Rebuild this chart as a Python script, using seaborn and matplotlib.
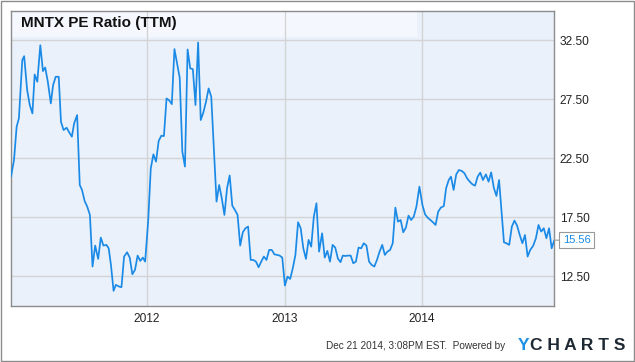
import matplotlib
matplotlib.use("Agg")
import matplotlib.pyplot as plt
import matplotlib.dates as mdates
from matplotlib.ticker import FormatStrFormatter
from matplotlib.patches import Rectangle
import seaborn as sns
import pandas as pd

# ---------------- data ----------------
dates_2011 = ["2011-01-04", "2011-01-12", "2011-01-19", "2011-01-25", "2011-02-03", "2011-02-08",
              "2011-02-16", "2011-02-23", "2011-03-02", "2011-03-08", "2011-03-15", "2011-03-23",
              "2011-03-30", "2011-04-05", "2011-04-12", "2011-04-20", "2011-04-26", "2011-05-03",
              "2011-05-11", "2011-05-17", "2011-05-24", "2011-06-01", "2011-06-08", "2011-06-15",
              "2011-06-21", "2011-06-29", "2011-07-06", "2011-07-12", "2011-07-19", "2011-07-26",
              "2011-08-02", "2011-08-09", "2011-08-16", "2011-08-24", "2011-08-31", "2011-09-07",
              "2011-09-15", "2011-09-21", "2011-09-27", "2011-10-04", "2011-10-10", "2011-10-18",
              "2011-10-25", "2011-11-01", "2011-11-09", "2011-11-16", "2011-11-23", "2011-11-30",
              "2011-12-07", "2011-12-14", "2011-12-21", "2011-12-27"]
pe_2011 = [20.95, 22.36, 25.18, 25.89, 30.83, 31.17, 28.29, 27.02, 26.31, 29.62, 29.00, 32.10,
           29.90, 30.21, 29.00, 27.16, 28.71, 29.42, 29.42, 25.60, 24.90, 25.10, 24.70, 24.34,
           25.46, 26.17, 20.24, 19.82, 18.88, 18.40, 17.70, 13.32, 15.10, 13.97, 15.78, 15.10,
           15.16, 14.87, 13.46, 11.26, 11.77, 11.63, 11.57, 14.17, 14.53, 14.08, 12.67, 13.04,
           14.25, 13.80, 14.08, 13.74]

dates_2012 = ["2012-01-04", "2012-01-11", "2012-01-18", "2012-01-25", "2012-02-01", "2012-02-08",
              "2012-02-15", "2012-02-22", "2012-02-29", "2012-03-07", "2012-03-14", "2012-03-21",
              "2012-03-28", "2012-04-04", "2012-04-11", "2012-04-18", "2012-04-25", "2012-05-02",
              "2012-05-09", "2012-05-16", "2012-05-23", "2012-05-30", "2012-06-06", "2012-06-13",
              "2012-06-20", "2012-06-27", "2012-07-04", "2012-07-11", "2012-07-18", "2012-07-25",
              "2012-08-01", "2012-08-08", "2012-08-15", "2012-08-22", "2012-08-29", "2012-09-05",
              "2012-09-12", "2012-09-19", "2012-09-26", "2012-10-03", "2012-10-10", "2012-10-17",
              "2012-10-24", "2012-10-31", "2012-11-07", "2012-11-14", "2012-11-21", "2012-11-28",
              "2012-12-05", "2012-12-12", "2012-12-19", "2012-12-26"]
pe_2012 = [17.13, 21.65, 22.84, 22.22, 23.97, 24.42, 24.39, 27.58, 27.42, 27.10, 31.77, 30.55,
           29.34, 23.07, 21.80, 31.74, 30.13, 30.07, 27.02, 32.33, 25.75, 26.40, 27.30, 28.43,
           27.72, 23.35, 18.83, 20.24, 19.11, 17.70, 19.96, 21.05, 18.48, 18.12, 17.70, 15.10,
           16.23, 16.57, 16.71, 13.88, 13.88, 13.74, 13.26, 13.74, 14.17, 13.88, 14.73, 14.73,
           14.36, 14.31, 14.25, 14.08]

dates_2013 = ["2013-01-02", "2013-01-09", "2013-01-16", "2013-01-23", "2013-01-30", "2013-02-06",
              "2013-02-13", "2013-02-20", "2013-02-27", "2013-03-06", "2013-03-13", "2013-03-20",
              "2013-03-27", "2013-04-03", "2013-04-11", "2013-04-18", "2013-04-25", "2013-05-02",
              "2013-05-09", "2013-05-16", "2013-05-23", "2013-05-30", "2013-06-05", "2013-06-12",
              "2013-06-19", "2013-06-26", "2013-07-03", "2013-07-10", "2013-07-17", "2013-07-24",
              "2013-07-31", "2013-08-07", "2013-08-14", "2013-08-21", "2013-08-28", "2013-09-04",
              "2013-09-11", "2013-09-18", "2013-09-25", "2013-10-02", "2013-10-09", "2013-10-16",
              "2013-10-23", "2013-10-30", "2013-11-06", "2013-11-13", "2013-11-20", "2013-11-27",
              "2013-12-04", "2013-12-11", "2013-12-18", "2013-12-26"]
pe_2013 = [11.71, 12.47, 12.27, 13.18, 14.31, 17.08, 16.57, 14.87, 13.97, 15.58, 15.01, 17.56,
           18.69, 14.59, 16.14, 14.08, 14.65, 13.74, 15.16, 14.93, 14.00, 13.69, 14.25, 14.22,
           14.25, 14.25, 13.60, 13.74, 14.93, 14.87, 15.30, 15.10, 13.74, 13.46, 13.32, 13.88,
           14.59, 15.16, 14.31, 14.59, 14.73, 15.30, 18.32, 17.13, 17.27, 16.23, 16.62, 17.64,
           17.27, 17.56, 18.40, 20.10]

dates_2014 = ["2014-01-03", "2014-01-10", "2014-01-17", "2014-01-24", "2014-01-31", "2014-02-07",
              "2014-02-14", "2014-02-21", "2014-03-01", "2014-03-07", "2014-03-14", "2014-03-20",
              "2014-03-27", "2014-04-03", "2014-04-10", "2014-04-18", "2014-04-25", "2014-05-02",
              "2014-05-09", "2014-05-16", "2014-05-23", "2014-05-30", "2014-06-06", "2014-06-13",
              "2014-06-21", "2014-06-28", "2014-07-05", "2014-07-12", "2014-07-19", "2014-07-26",
              "2014-08-01", "2014-08-08", "2014-08-14", "2014-08-22", "2014-08-29", "2014-09-05",
              "2014-09-12", "2014-09-19", "2014-09-26", "2014-10-03", "2014-10-10", "2014-10-17",
              "2014-10-25", "2014-11-01", "2014-11-08", "2014-11-15", "2014-11-22", "2014-11-29",
              "2014-12-06", "2014-12-13", "2014-12-20"]
pe_2014 = [18.54, 17.75, 17.47, 17.27, 17.08, 16.85, 17.98, 18.32, 18.45, 19.96, 20.66, 20.95,
           19.82, 21.14, 21.51, 21.43, 21.23, 20.80, 20.52, 20.30, 20.18, 20.95, 21.29, 20.66,
           21.14, 20.52, 21.31, 20.01, 19.31, 20.66, 18.26, 15.38, 15.30, 15.16, 16.71, 17.22,
           16.79, 16.00, 15.30, 16.00, 14.17, 14.73, 15.10, 15.72, 16.85, 16.29, 16.57, 15.72,
           16.57, 14.87, 15.56]

y_ticks = [12.5, 17.5, 22.5, 27.5, 32.5]
title_text = "MNTX PE Ratio (TTM)"
footer_text = "Dec 21 2014, 3:08PM EST.  Powered by"

# ---------------- figure ----------------
dates = dates_2011 + dates_2012 + dates_2013 + dates_2014
values = pe_2011 + pe_2012 + pe_2013 + pe_2014
df = pd.DataFrame({"date": pd.to_datetime(dates), "pe": values})

sns.set_theme(style="white")
plt.rcParams['font.family'] = ['Liberation Sans', 'DejaVu Sans']

W, H = 635, 362
fig = plt.figure(figsize=(W / 100, H / 100), dpi=100)
fig.patch.set_facecolor("white")

ax = fig.add_axes([11 / W, 56.3 / H, 543.3 / W, 294.7 / H])
ax.set_facecolor("#EAF1FB")

sns.lineplot(data=df, x="date", y="pe", ax=ax, color="#1B8AE6", linewidth=1.25, zorder=3)

ax.set_xlim(df["date"].iloc[0], df["date"].iloc[-1])
ax.set_ylim(10, 35)
ax.set_yticks(y_ticks)
ax.yaxis.tick_right()
ax.yaxis.set_major_formatter(FormatStrFormatter("%.2f"))
ax.xaxis.set_major_locator(mdates.YearLocator())
ax.xaxis.set_major_formatter(mdates.DateFormatter("%Y"))
ax.tick_params(length=0, labelsize=8.6, colors="#222222")
ax.tick_params(axis="y", pad=4)
ax.tick_params(axis="x", pad=5)
ax.set_xlabel("")
ax.set_ylabel("")
ax.grid(True, color="#D4D4D4", linewidth=1)
ax.set_axisbelow(True)
for s in ax.spines.values():
    s.set_visible(True)
    s.set_color("#8C8C8C")
    s.set_linewidth(1)

# title band
ax.add_patch(Rectangle((0, 0.912), 0.747, 0.088, transform=ax.transAxes,
                       facecolor="#F4F8FE", edgecolor="none", zorder=0.2))
ax.text(0.0184, 0.958, title_text, transform=ax.transAxes, fontsize=11,
        fontweight="bold", color="#111111", va="center", ha="left", zorder=4)

# last value callout
ax.annotate(f"{values[-1]:.2f}", xy=(df["date"].iloc[-1], values[-1]),
            xytext=(6, 0), textcoords="offset points", ha="left", va="center",
            fontsize=8, color="#1B8AE6", annotation_clip=False,
            bbox=dict(boxstyle="square,pad=0.3", facecolor="white", edgecolor="#999999", lw=0.8),
            arrowprops=dict(arrowstyle="-", color="#999999", lw=0.8, shrinkA=0, shrinkB=0))

# footer
fy = 1 - 346 / H
fig.text(505 / W, fy, footer_text, ha="right", va="center", fontsize=7.2, color="#333333")
fig.text(518 / W, fy, "Y", ha="left", va="center", fontsize=12.5, fontweight="bold", color="#1E90E6")
fig.text(625 / W, fy, "C H A R T S", ha="right", va="center", fontsize=12.5,
         fontweight="bold", color="#1F2933")

# outer border
fig.add_artist(Rectangle((0.5 / W, 1.5 / H), 633.5 / W, 359.5 / H, transform=fig.transFigure,
                         fill=False, edgecolor="#8C8C8C", lw=1))

fig.savefig("out.png", dpi=100, facecolor="white")
